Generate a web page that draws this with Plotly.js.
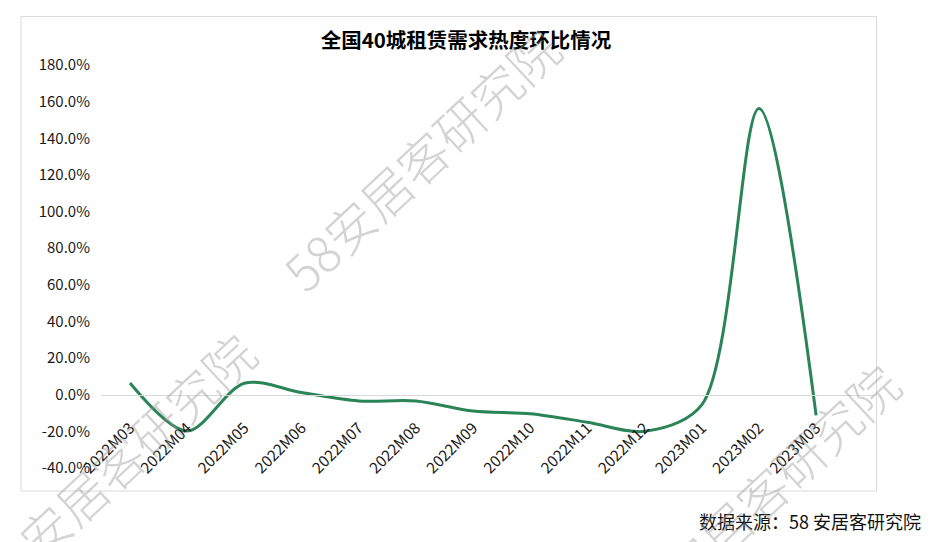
<!DOCTYPE html>
<html>
<head>
<meta charset="utf-8">
<script src="https://cdn.plot.ly/plotly-3.0.1.min.js"></script>
<style>html,body{margin:0;padding:0;background:#fff;}#chart{width:937px;height:542px;}</style>
</head>
<body>
<div id="chart"></div>
<script>
// ---- data ----
const categories = ['2022M03','2022M04','2022M05','2022M06','2022M07','2022M08','2022M09','2022M10','2022M11','2022M12','2023M01','2023M02','2023M03'];
const momChange = [6.4, -19.8, 6.3, 1.2, -3.4, -3.4, -8.9, -10.4, -15.0, -20.0, -5.5, 156.3, -11.3];
const yTickValues = [-40, -20, 0, 20, 40, 60, 80, 100, 120, 140, 160, 180];
const yTickLabels = ['-40.0%','-20.0%','0.0%','20.0%','40.0%','60.0%','80.0%','100.0%','120.0%','140.0%','160.0%','180.0%'];
const titleText = '全国40城租赁需求热度环比情况';
const sourceText = '数据来源：58 安居客研究院';
const watermarkText = '58安居客研究院';

// ---- layout geometry (pixels) ----
const W = 937, H = 542;
const L = 101, R = 875, T = 64.5, B = 468.4;
const pw = R - L, ph = B - T;
const fx = px => (px - L) / pw;
const fy = py => (B - py) / ph;
const FONT = '"Noto Sans CJK SC", "Noto Sans", sans-serif';

const yMin = -40, yMax = 180;

const trace = {
  type: 'scatter',
  mode: 'lines',
  x: categories,
  y: momChange,
  line: {color: '#2a8457', width: 3, shape: 'spline', smoothing: 0.9},
  hoverinfo: 'x+y'
};

function watermark(cx, cy) {
  return {
    xref: 'paper', yref: 'paper', x: fx(cx), y: fy(cy),
    xanchor: 'center', yanchor: 'middle',
    text: watermarkText, showarrow: false, textangle: -43,
    font: {family: FONT, size: 50, color: 'rgba(150,150,150,0.42)', weight: 300}
  };
}

const layout = {
  width: W, height: H,
  margin: {l: L, r: W - R, t: T, b: H - B, pad: 0},
  paper_bgcolor: '#ffffff', plot_bgcolor: '#ffffff',
  showlegend: false,
  font: {family: FONT, color: '#333333'},
  title: {
    text: '<b>' + titleText + '</b>',
    x: 466 / W, xref: 'container', xanchor: 'center',
    y: 1 - 41 / H, yref: 'container', yanchor: 'middle',
    font: {family: FONT, size: 20.5, color: '#000000'}
  },
  xaxis: {
    type: 'category',
    range: [-0.507, 13.03],
    anchor: 'free',
    position: (0 - yMin) / (yMax - yMin),
    showline: true, linecolor: '#d9d9d9', linewidth: 1,
    showgrid: false, zeroline: false,
    ticks: '', tickangle: -45,
    ticklabelstandoff: 17,
    tickfont: {family: FONT, size: 15.5, color: '#1a1a1a'},
    fixedrange: true
  },
  yaxis: {
    range: [yMin, yMax],
    tickvals: yTickValues, ticktext: yTickLabels,
    showgrid: false, zeroline: false, showline: false,
    ticks: '', ticklabelstandoff: 10,
    tickfont: {family: FONT, size: 15, color: '#1a1a1a'},
    fixedrange: true
  },
  shapes: [{
    type: 'rect', xref: 'paper', yref: 'paper',
    x0: fx(21), x1: fx(876.5), y0: fy(491.5), y1: fy(16),
    line: {color: '#d9d9d9', width: 1}, fillcolor: 'rgba(0,0,0,0)', layer: 'below'
  }],
  annotations: [
    {
      xref: 'paper', yref: 'paper', x: fx(923), y: fy(521.5),
      xanchor: 'right', yanchor: 'middle', showarrow: false,
      text: sourceText,
      font: {family: FONT, size: 18, color: '#111111'}
    },
    watermark(421, 158),
    watermark(116, 463),
    watermark(760, 494)
  ]
};

Plotly.newPlot('chart', [trace], layout, {displayModeBar: false, staticPlot: true});
</script>
</body>
</html>
